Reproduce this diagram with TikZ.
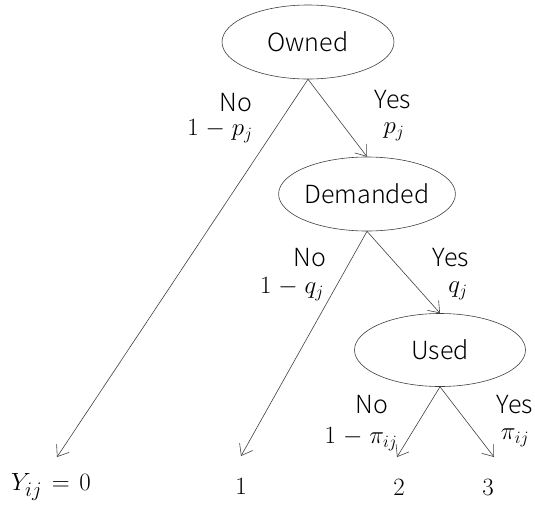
\documentclass[tikz,border=0pt]{standalone}
\usepackage{fontspec}
\setmainfont{Noto Sans CJK JP Light}
\usetikzlibrary{shapes.geometric,arrows.meta}
\begin{document}
\begin{tikzpicture}[x=1pt,y=-1pt,
  decision/.style={draw=black!75,line width=0.6pt,ellipse,inner sep=0pt,
    font=\fontsize{25}{29}\selectfont},
  branch/.style={draw=black!75,line width=0.6pt,
    -{Straight Barb[length=10pt,width=15pt,line width=0.6pt]}},
  word/.style={font=\fontsize{25}{29}\selectfont,inner sep=0pt},
  prob/.style={font=\fontsize{26}{30}\selectfont,inner sep=0pt},
  leaf/.style={font=\fontsize{28}{32}\selectfont,inner sep=0pt}]
\useasboundingbox (0,0) rectangle (535,507);

% decision nodes
\node[decision,minimum width=172pt,minimum height=74pt] (owned) at (308,42) {Owned};
\node[decision,minimum width=151pt,minimum height=74pt] (demanded) at (367,194) {Demanded};
\node[decision,minimum width=171pt,minimum height=73pt] (used) at (440,350) {Used};

% arrow tips above the outcomes
\coordinate (t0) at (57,457);
\coordinate (t1) at (241,456);
\coordinate (t2) at (397,457);
\coordinate (t3) at (494,457);

% outcomes
\node[leaf] (y0) at (51,487) {$Y_{ij}\mathrel{\mkern2mu=\mkern2mu}0$};
\node[leaf] (y1) at (241,486) {$1$};
\node[leaf] (y2) at (399,487) {$2$};
\node[leaf] (y3) at (488,487) {$3$};

% branches
\draw[branch] (owned.south) -- (t0);
\draw[branch] (owned.south) -- (demanded.north);
\draw[branch] (demanded.south) -- (t1);
\draw[branch] (demanded.south) -- (used.north);
\draw[branch] (used.south) -- (t2);
\draw[branch] (used.south) -- (t3);

% branch labels
\node[word] (n1) at (236,103) {No};
\node[prob] (pn1) at (220,131) {$1\mathbin{\mkern1mu-\mkern1mu}p_j$};
\node[word] (s1) at (393,100) {Yes};
\node[prob] (ps1) at (394,132) {$p_j$};

\node[word] (n2) at (310,258) {No};
\node[prob] (pn2) at (292,289) {$1\mathbin{\mkern1mu-\mkern1mu}q_j$};
\node[word] (s2) at (451,258) {Yes};
\node[prob] (ps2) at (458,291) {$q_j$};

\node[word] (n3) at (372,405) {No};
\node[prob] (pn3) at (361,439) {$1\mathbin{\mkern1mu-\mkern1mu}\pi_{ij}$};
\node[word] (s3) at (515,405) {Yes};
\node[prob] (ps3) at (515,438) {$\pi_{ij}$};
\end{tikzpicture}
\end{document}
